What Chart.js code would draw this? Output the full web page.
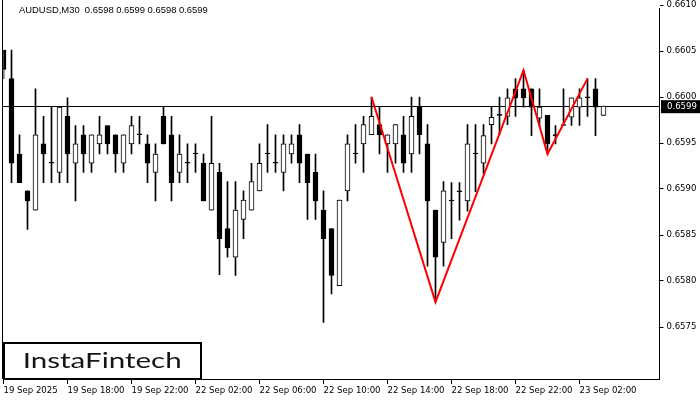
<!DOCTYPE html>
<html>
<head>
<meta charset="utf-8">
<title>AUDUSD M30</title>
<script src="https://cdn.jsdelivr.net/npm/chart.js@4.4.1/dist/chart.umd.min.js"></script>
<style>
  html, body { margin: 0; padding: 0; background: #fff; }
  #wrap { width: 700px; height: 400px; position: relative; }
</style>
</head>
<body>
<div id="wrap"><canvas id="chart"></canvas></div>
<script>
const symbol = "AUDUSD,M30";
const lastQuote = "0.6598 0.6599 0.6598 0.6599";

// time labels, one every 8 bars (4 hours)
const timeLabels = ["19 Sep 2025", "19 Sep 18:00", "19 Sep 22:00", "22 Sep 02:00", "22 Sep 06:00",
  "22 Sep 10:00", "22 Sep 14:00", "22 Sep 18:00", "22 Sep 22:00", "23 Sep 02:00"];

// OHLC of each M30 bar
const opens = [0.66051, 0.66020, 0.65938, 0.65898, 0.65877, 0.65949, 0.65928, 0.65918, 0.65979, 0.65928,
  0.65959, 0.65928, 0.65949, 0.65969, 0.65959, 0.65928, 0.65949, 0.65959, 0.65949, 0.65918,
  0.65979, 0.65959, 0.65918, 0.65928, 0.65938, 0.65928, 0.65877, 0.65918, 0.65857, 0.65826,
  0.65867, 0.65877, 0.65898, 0.65938, 0.65928, 0.65918, 0.65938, 0.65959, 0.65938, 0.65918,
  0.65877, 0.65857, 0.65795, 0.65898, 0.65938, 0.65949, 0.65959, 0.65970, 0.65949, 0.65949,
  0.65959, 0.65938, 0.65989, 0.65949, 0.65877, 0.65842, 0.65887, 0.65897, 0.65887, 0.65938,
  0.65928, 0.65970, 0.65980, 0.65979, 0.66009, 0.66009, 0.66009, 0.65977, 0.65980, 0.65958,
  0.65969, 0.65978, 0.65989, 0.65999, 0.66009, 0.65980];
const highs = [0.66051, 0.66051, 0.65959, 0.65898, 0.66009, 0.65979, 0.65989, 0.65989, 0.65999, 0.65969,
  0.65969, 0.65959, 0.65979, 0.65969, 0.65959, 0.65959, 0.65979, 0.65979, 0.65959, 0.65949,
  0.65989, 0.65979, 0.65959, 0.65949, 0.65949, 0.65938, 0.65979, 0.65928, 0.65908, 0.65908,
  0.65898, 0.65928, 0.65949, 0.65970, 0.65959, 0.65959, 0.65959, 0.65970, 0.65938, 0.65938,
  0.65898, 0.65857, 0.65888, 0.65959, 0.65970, 0.65979, 0.66000, 0.65989, 0.65959, 0.65970,
  0.65979, 0.66000, 0.66000, 0.65970, 0.65877, 0.65908, 0.65907, 0.65907, 0.65970, 0.65970,
  0.65970, 0.65989, 0.66000, 0.66009, 0.66020, 0.66029, 0.66009, 0.66009, 0.65980, 0.65969,
  0.66009, 0.65999, 0.66009, 0.66020, 0.66020, 0.65990];
const lows = [0.66020, 0.65907, 0.65907, 0.65856, 0.65877, 0.65907, 0.65907, 0.65907, 0.65907, 0.65887,
  0.65918, 0.65918, 0.65938, 0.65938, 0.65918, 0.65918, 0.65938, 0.65949, 0.65907, 0.65887,
  0.65949, 0.65887, 0.65907, 0.65907, 0.65918, 0.65887, 0.65877, 0.65807, 0.65826, 0.65806,
  0.65846, 0.65877, 0.65898, 0.65918, 0.65918, 0.65898, 0.65928, 0.65907, 0.65867, 0.65867,
  0.65755, 0.65786, 0.65795, 0.65887, 0.65928, 0.65918, 0.65959, 0.65938, 0.65918, 0.65928,
  0.65918, 0.65918, 0.65938, 0.65816, 0.65777, 0.65816, 0.65846, 0.65866, 0.65876, 0.65897,
  0.65917, 0.65949, 0.65959, 0.65970, 0.65979, 0.65989, 0.65958, 0.65968, 0.65938, 0.65949,
  0.65969, 0.65969, 0.65969, 0.65979, 0.65958, 0.65980];
const closes = [0.66030, 0.65928, 0.65907, 0.65887, 0.65959, 0.65938, 0.65928, 0.65989, 0.65938, 0.65949,
  0.65938, 0.65959, 0.65959, 0.65949, 0.65938, 0.65959, 0.65969, 0.65959, 0.65928, 0.65938,
  0.65949, 0.65907, 0.65938, 0.65928, 0.65938, 0.65887, 0.65928, 0.65846, 0.65836, 0.65877,
  0.65888, 0.65908, 0.65928, 0.65938, 0.65928, 0.65949, 0.65949, 0.65928, 0.65907, 0.65887,
  0.65846, 0.65806, 0.65888, 0.65949, 0.65938, 0.65970, 0.65979, 0.65959, 0.65959, 0.65970,
  0.65928, 0.65979, 0.65959, 0.65887, 0.65826, 0.65898, 0.65887, 0.65897, 0.65949, 0.65938,
  0.65958, 0.65978, 0.65980, 0.65999, 0.65999, 0.65999, 0.65989, 0.65989, 0.65949, 0.65958,
  0.65969, 0.65999, 0.65999, 0.65999, 0.65989, 0.65990];

// price axis ticks
const priceTicks = [0.6575, 0.6580, 0.6585, 0.6590, 0.6595, 0.6600, 0.6605, 0.6610];

// red pattern line: bar index and price of each turning point
const patternBars = [46, 54, 65, 68, 73];
const patternPrices = [0.66000, 0.65777, 0.66029, 0.65938, 0.66020];

const axisFont = { family: "'DejaVu Sans Condensed', sans-serif", size: 9.5 };

// category labels: bars plus empty space at the right
const nSlots = 83;
const labels = [];
for (let i = 0; i < nSlots; i++) {
  labels.push(i < opens.length && i % 8 === 0 ? timeLabels[i / 8] : "");
}

const patternData = opens.map(() => null);
patternBars.forEach((b, k) => { patternData[b] = patternPrices[k]; });

const lastClose = closes[closes.length - 1];

const extras = {
  id: "extras",
  beforeDatasetsDraw(chart) {
    const { ctx, chartArea } = chart;
    const y = Math.round(chart.scales.y.getPixelForValue(lastClose)) + 0.5;
    ctx.save();
    ctx.strokeStyle = "#000";
    ctx.lineWidth = 1;
    ctx.beginPath();
    ctx.moveTo(chartArea.left - 1, y);
    ctx.lineTo(chartArea.right, y);
    // left frame
    ctx.moveTo(2.5, 0);
    ctx.lineTo(2.5, chartArea.bottom);
    ctx.stroke();
    ctx.restore();
  },
  afterDraw(chart) {
    const { ctx, chartArea } = chart;
    ctx.save();

    // header
    const head = symbol + "  " + lastQuote;
    ctx.font = "10px 'Liberation Sans', sans-serif";
    const hs = 10 * 189 / ctx.measureText(head).width;
    ctx.font = hs + "px 'Liberation Sans', sans-serif";
    ctx.fillStyle = "#000";
    ctx.textBaseline = "middle";
    ctx.textAlign = "left";
    ctx.fillText(head, 19, 10);

    // current price box
    const py = chart.scales.y.getPixelForValue(lastClose);
    ctx.fillStyle = "#000";
    ctx.fillRect(chartArea.right + 1.5, py - 6, 40, 13);
    ctx.fillStyle = "#fff";
    ctx.font = axisFont.size + "px " + axisFont.family;
    ctx.fillText(lastClose.toFixed(4), chartArea.right + 7.5, py + 0.5);

    // logo
    ctx.fillStyle = "#fff";
    ctx.fillRect(3, 342, 198, 37);
    ctx.strokeStyle = "#000";
    ctx.lineWidth = 2;
    ctx.strokeRect(4, 343, 197, 36);
    const logo = "InstaFintech";
    ctx.font = "21px Lato, sans-serif";
    const lw = ctx.measureText(logo).width;
    ctx.fillStyle = "#151515";
    ctx.textBaseline = "alphabetic";
    ctx.translate(22.7, 367.5);
    ctx.scale(159 / lw, 1);
    ctx.fillText(logo, 0, 0);
    ctx.restore();
  }
};

const chart = new Chart(document.getElementById("chart"), {
  data: {
    labels: labels,
    datasets: [
      {
        type: "line",
        data: patternData,
        borderColor: "#ff0000",
        borderWidth: 2,
        pointRadius: 0,
        spanGaps: true,
        tension: 0,
        order: 0
      },
      {
        type: "bar",
        data: opens.map((o, i) => [o, closes[i]]),
        backgroundColor: opens.map((o, i) => (closes[i] > o ? "#fff" : "#000")),
        borderColor: "#000",
        borderWidth: 1,
        borderSkipped: false,
        barThickness: 5,
        minBarLength: 1,
        grouped: false,
        order: 1
      },
      {
        type: "bar",
        data: lows.map((l, i) => [l, highs[i]]),
        backgroundColor: "#000",
        borderWidth: 0,
        barThickness: 1,
        grouped: false,
        order: 2
      }
    ]
  },
  options: {
    responsive: true,
    maintainAspectRatio: false,
    animation: false,
    events: [],
    layout: { padding: { left: 3.5, top: 0, right: 0, bottom: 0 }, autoPadding: false },
    plugins: { legend: { display: false }, tooltip: { enabled: false } },
    scales: {
      x: {
        type: "category",
        offset: false,
        grid: { offset: false, drawOnChartArea: false, color: "#000", tickLength: 5 },
        border: { color: "#000" },
        ticks: {
          autoSkip: false,
          maxRotation: 0,
          align: "start",
          padding: 1,
          color: "#000",
          font: axisFont,
          callback(v) {
            const s = this.getLabelForValue(v);
            return s === "" ? null : s;
          }
        },
        afterFit(scale) { scale.height = 21; }
      },
      y: {
        position: "right",
        min: 0.6570,
        max: 0.6611,
        grid: { drawOnChartArea: false, color: "#000", tickLength: 4 },
        border: { color: "#000" },
        ticks: {
          padding: 3,
          color: "#000",
          font: axisFont,
          callback: v => v.toFixed(4)
        },
        afterBuildTicks(scale) {
          scale.ticks = priceTicks.map(v => ({ value: v }));
        },
        afterFit(scale) { scale.width = 40.5; }
      }
    }
  },
  plugins: [extras]
});

// fit the price range so 0.6610 sits at y=5 and 0.6575 at y=327
const ca = chart.chartArea;
const perPx = (0.6610 - 0.6575) / (327 - 5);
chart.options.scales.y.max = 0.6610 + (5 - ca.top) * perPx;
chart.options.scales.y.min = 0.6575 - (ca.bottom - 327) * perPx;
chart.update();
</script>
</body>
</html>
